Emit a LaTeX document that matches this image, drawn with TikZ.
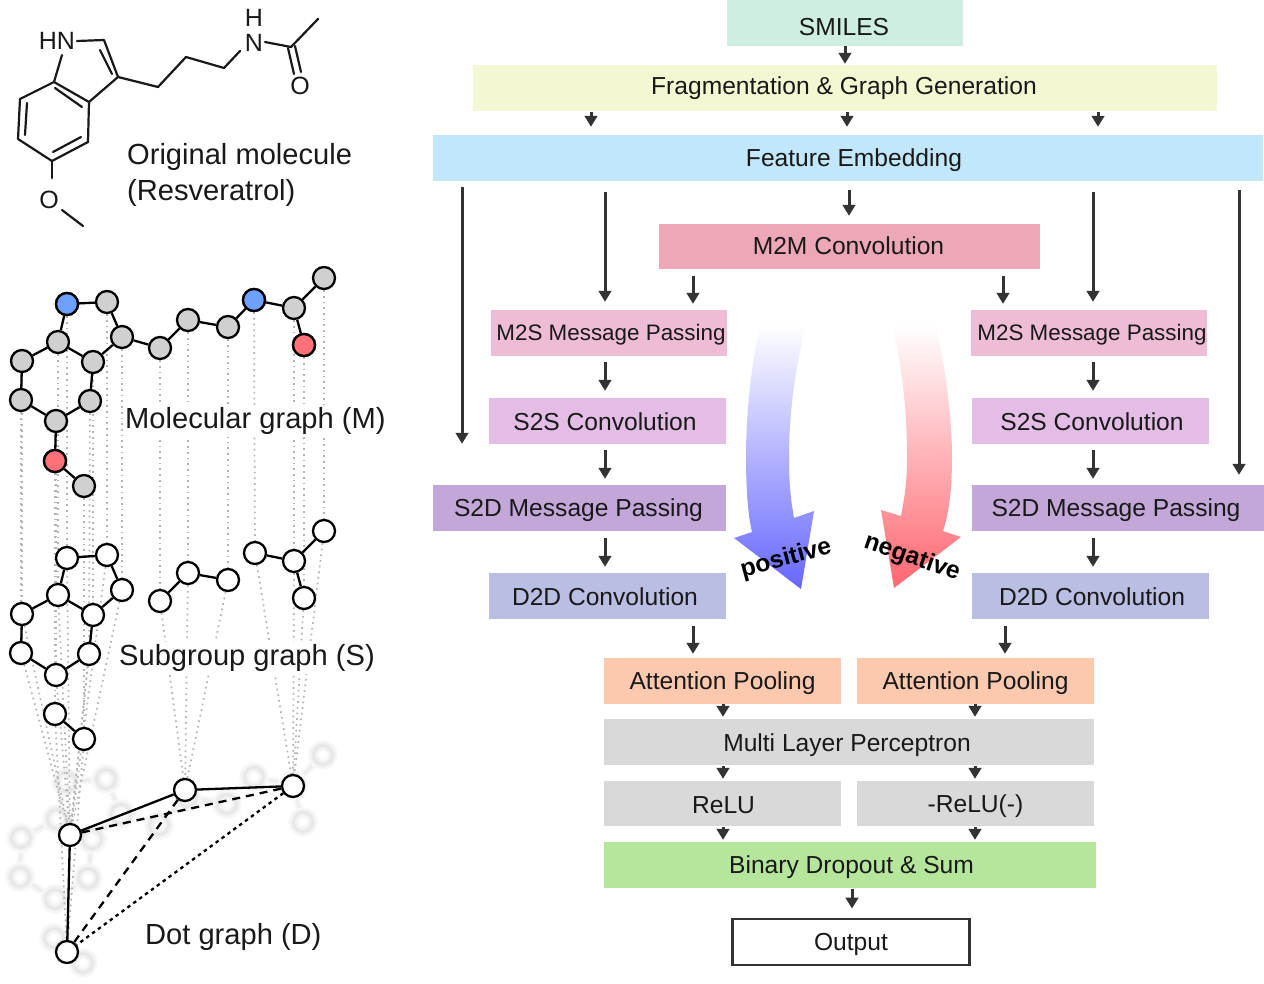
\documentclass[tikz,border=0pt]{standalone}
\usepackage{fontspec}
\setmainfont{Liberation Sans}
\usetikzlibrary{arrows.meta,backgrounds,calc}
\definecolor{csmiles}{HTML}{CDEEE0}
\definecolor{cfrag}{HTML}{F5F6D2}
\definecolor{cfeat}{HTML}{C2E7FA}
\definecolor{cmm}{HTML}{EEA7B6}
\definecolor{cms}{HTML}{EFBCD6}
\definecolor{css}{HTML}{E4BDE6}
\definecolor{csd}{HTML}{C4A7D9}
\definecolor{cdd}{HTML}{BABEE2}
\definecolor{catt}{HTML}{FCC8AE}
\definecolor{cgry}{HTML}{D9D9D9}
\definecolor{cbin}{HTML}{B6E59C}
\definecolor{cink}{HTML}{333333}
\definecolor{catomg}{HTML}{D0D0D0}
\definecolor{catomb}{HTML}{6EA0FF}
\definecolor{catomr}{HTML}{FF7078}
\definecolor{cpos}{HTML}{6666FF}
\definecolor{cneg}{HTML}{FF6670}
\definecolor{cdot}{HTML}{B4B4B4}
\tikzset{
  boxnode/.style={inner sep=0pt,text height=20pt,text depth=2.4pt,font=\fontsize{24.6}{28}\selectfont,text=black!90},
  flow/.style={draw=cink,line width=3pt,-{Triangle[length=11pt,width=12.5pt]}},
  atom/.style={circle,draw=black,line width=2.3pt,minimum size=22pt,inner sep=0pt,fill=white},
  bondl/.style={draw=black,line width=2.3pt},
  mol/.style={draw=black!90,line width=2.2pt,line cap=round,line join=round},
  atomtxt/.style={inner sep=0pt,font=\fontsize{25}{28}\selectfont,text=black!90},
  lab/.style={inner sep=2pt,fill=white,anchor=west,font=\fontsize{29.1}{34}\selectfont,text=black!90},
  dotl/.style={draw=cdot,line width=1.7pt,dash pattern=on 1.7pt off 4pt},
  polarity/.style={inner sep=0pt,font=\bfseries\fontsize{24.6}{28}\selectfont,text=black}
}
\newcommand\bx[7]{\node[boxnode,fill=#6,minimum width={(#4-#2)*1pt},minimum height={(#5-#3)*1pt}] (#1) at ({(#2+#4)/2},{(#3+#5)/2}) {#7};}
\newcommand\arr[5]{\draw[flow,shorten <=#4pt,shorten >=#5pt] (#2.south -| #1,0) -- (#3.north -| #1,0);}
\newcommand\tx[3]{\hspace*{#1pt}\raisebox{#2pt}{#3}}
\def\mlist{1/67/304,2/107/302,3/122/337,4/93/362,5/58/342,6/22/361,7/21/400,8/56/421,9/90/401,10/55/461,11/84/486,12/160/348,13/188/320,14/228/327,15/254/300,16/294/308,17/324/278,18/304/345}
\def\slist{1/67/558,2/107/555,3/122/590,4/93/615,5/58/595,6/22/614,7/21/653,8/56/675,9/89/654,10/55/714,11/84/739,12/160/601,13/188/573,14/228/580,15/255/553,16/294/561,17/324/531,18/304/598}
\def\sbonds{1/2,2/3,3/4,4/5,5/1,5/6,6/7,7/8,8/9,9/4,10/11,12/13,13/14,15/16,16/17,16/18}
\def\mbonds{1/2,2/3,3/4,4/5,5/1,5/6,6/7,7/8,8/9,9/4,8/10,10/11,3/12,12/13,13/14,14/15,15/16,16/17,16/18}
\begin{document}
\begin{tikzpicture}[x=1pt,y=-1pt]
\useasboundingbox (0,0) rectangle (1264,983);
% flow boxes
\bx{smiles}{727}{0}{963}{46}{csmiles}{\tx{-2}{-4}{SMILES}}
\bx{frag}{473}{65}{1217}{111}{cfrag}{\tx{-2}{2}{Fragmentation \& Graph Generation}}
\bx{feat}{433}{135}{1263}{181}{cfeat}{\tx{12}{0}{Feature Embedding}}
\bx{mm}{659}{224}{1040}{269}{cmm}{\tx{-2}{1}{M2M Convolution}}
\bx{msl}{491}{310}{727}{356}{cms}{\tx{4}{1}{\fontsize{22.4}{26}\selectfont M2S Message Passing}}
\bx{msr}{971}{310}{1207}{356}{cms}{\tx{6}{1}{\fontsize{22.4}{26}\selectfont M2S Message Passing}}
\bx{ssl}{489}{398}{726}{444}{css}{\tx{-5}{-1}{S2S Convolution}}
\bx{ssr}{972}{398}{1209}{444}{css}{\tx{3}{-1}{S2S Convolution}}
\bx{sdl}{433}{485}{726}{531}{csd}{\tx{-2}{0}{S2D Message Passing}}
\bx{sdr}{972}{485}{1264}{531}{csd}{\tx{-4}{0}{S2D Message Passing}}
\bx{ddl}{489}{573}{726}{619}{cdd}{\tx{-5}{-1}{D2D Convolution}}
\bx{ddr}{972}{573}{1209}{619}{cdd}{\tx{3}{-1}{D2D Convolution}}
\bx{attl}{604}{658}{841}{704}{catt}{Attention Pooling}
\bx{attr}{857}{658}{1094}{704}{catt}{Attention Pooling}
\bx{mlp}{604}{719}{1094}{765}{cgry}{\tx{-4}{-1}{Multi Layer Perceptron}}
\bx{rel}{604}{781}{841}{826}{cgry}{\tx{2}{-1}{ReLU}}
\bx{rer}{857}{781}{1094}{826}{cgry}{-ReLU(-)}
\bx{bin}{604}{842}{1096}{888}{cbin}{\tx{3}{0}{Binary Dropout \& Sum}}
\node[boxnode,draw=cink,line width=2.8pt,fill=white,minimum width=237pt,minimum height=46pt] (out) at (851,942) {Output};
% flow arrows
\arr{845}{smiles}{frag}{0}{1}
\arr{591}{frag}{feat}{1}{8}
\arr{847}{frag}{feat}{1}{8}
\arr{1098}{frag}{feat}{1}{8}
\arr{462}{feat}{sdl}{6}{41}
\arr{605}{feat}{msl}{11}{8}
\arr{849}{feat}{mm}{9}{8}
\arr{1093}{feat}{msr}{11}{8}
\arr{1239}{feat}{sdr}{9}{10}
\arr{693}{mm}{msl}{7}{6}
\arr{1003}{mm}{msr}{7}{6}
\arr{605}{msl}{ssl}{6}{7}
\arr{1093}{msr}{ssr}{6}{7}
\arr{605}{ssl}{sdl}{6}{6}
\arr{1093}{ssr}{sdr}{6}{6}
\arr{605}{sdl}{ddl}{7}{6}
\arr{1093}{sdr}{ddr}{7}{6}
\arr{693}{ddl}{attl}{7}{4}
\arr{1005}{ddr}{attr}{7}{4}
\arr{723}{attl}{mlp}{0}{2}
\arr{975}{attr}{mlp}{0}{2}
\arr{723}{mlp}{rel}{1}{2}
\arr{975}{mlp}{rer}{1}{2}
\arr{723}{rel}{bin}{1}{2}
\arr{975}{rer}{bin}{1}{2}
\arr{852}{bin}{out}{1}{9}
% polarity arrows
\shade[top color=white,bottom color=cpos,draw=none] (760,325) .. controls (750,370) and (746,420) .. (746,457) .. controls (746,490) and (748,515) .. (752,532) -- (734,538) -- (801,589) -- (814,511) -- (794,518) .. controls (790,495) and (789,480) .. (789,457) .. controls (789,410) and (796,365) .. (806,325) -- cycle;
\shade[top color=white,bottom color=cneg,draw=none] (936,325) .. controls (946,370) and (952,420) .. (952,457) .. controls (952,490) and (949,512) .. (943,531) -- (961,537) -- (894,588) -- (881,510) -- (901,516) .. controls (905,495) and (907,480) .. (907,457) .. controls (907,410) and (902,365) .. (892,325) -- cycle;
\node[polarity,rotate=15] (pos) at (786,559) {positive};
\node[polarity,rotate=-19] (neg) at (912,558) {negative};
% molecule
\foreach \n/\x/\y in {c2/104/40,c3/118/77,c3a/89/102,c7a/54/82,c7/20/99,c6/18/139,c5/52/161,c4/88/142,me/83/226,ca/158/87,cb/186/57,cc/224/68,cd/291/47,ce/318/19,nhl/240/51,nhr/265/42,hne/77/41,hns/62/55,oat/52/178,oar/62/210}
  \coordinate (\n) at (\x,\y);
\node[atomtxt] (hn) at (57,41) {HN};
\node[atomtxt] (nh) at (254,43) {N};
\node[atomtxt] (hh) at (254,18) {H};
\node[atomtxt] (oa) at (49,200) {O};
\node[atomtxt] (ob) at (300,86) {O};
\draw[mol] (hne) -- (c2) -- (c3) -- (c3a) -- (c7a) -- (c7) -- (c6) -- (c5) -- (c4) -- (c3a);
\draw[mol] (c7a) -- (hns);
\draw[mol] (c5) -- (oat);
\draw[mol] (oar) -- (me);
\draw[mol] (c3) -- (ca) -- (cb) -- (cc) -- (nhl);
\draw[mol] (nhr) -- (cd) -- (ce);
\draw[mol] (288,48) -- (294,74);
\draw[mol] (295,46) -- (301,72);
\draw[mol] (100,50) -- (112,74);
\draw[mol] (55,88) -- (82,107);
\draw[mol] (27,103) -- (25,135);
\draw[mol] (53,152) -- (81,137);
% graphs
\foreach \n/\x/\y in \mlist {\node[atom,fill=catomg] (m\n) at (\x,\y) {};}
\node[atom,fill=catomb] (mb1) at (m1) {};
\node[atom,fill=catomb] (mb2) at (m15) {};
\node[atom,fill=catomr] (mr1) at (m10) {};
\node[atom,fill=catomr] (mr2) at (m18) {};
\foreach \n/\x/\y in \slist {\node[atom] (s\n) at (\x,\y) {};}
\node[atom] (d1) at (70,835) {};
\node[atom] (d2) at (185,790) {};
\node[atom] (d3) at (293,786) {};
\node[atom] (d4) at (67,952) {};
\node[lab] (lo) at (125,157) {Original molecule};
\node[lab] (lr) at (125,193) {(Resveratrol)};
\node[lab] (lm) at (123,421) {Molecular graph (M)};
\node[lab] (ls) at (117,658) {Subgroup graph (S)};
\node[lab] (ld) at (143,937) {Dot graph (D)};
\begin{pgfonlayer}{background}
  \fill[white] (0,0) rectangle (1264,983);
  % blurred copy of the subgroup graph
  \foreach \n/\x/\y in \slist {\coordinate (g\n) at ({\x-1},{\y+224});}
  \foreach \w/\c in {8/2,6/3,4/5,2/7} {
    \foreach \a/\b in \sbonds {\draw[line width=\w pt,color=black!\c!white] (g\a) -- (g\b);}
  }
  \foreach \n/\x/\y in \slist {\fill[white] (g\n) circle[radius=10pt];}
  \foreach \w/\c in {11/2,9/3,7/4.5,5/6,3/8,1.5/9.5} {
    \foreach \n/\x/\y in \slist {\draw[line width=\w pt,color=black!\c!white] (g\n) circle[radius=9.5pt];}
  }
  % projections
  \foreach \n/\x/\y in \mlist {\draw[dotl] (m\n) -- (s\n);}
  \foreach \n in {1,2,3,4,5,6,7,8,9} {\draw[dotl] (s\n) -- (d1);}
  \foreach \n in {10,11} {\draw[dotl] (s\n) -- (d4);}
  \foreach \n in {12,13,14} {\draw[dotl] (s\n) -- (d2);}
  \foreach \n in {15,16,17,18} {\draw[dotl] (s\n) -- (d3);}
  % bonds
  \foreach \a/\b in \mbonds {\draw[bondl] (m\a) -- (m\b);}
  \foreach \a/\b in \sbonds {\draw[bondl] (s\a) -- (s\b);}
  \draw[bondl] (d1) -- (d2);
  \draw[bondl] (d2) -- (d3);
  \draw[bondl] (d1) -- (d4);
  \draw[bondl,dash pattern=on 8pt off 6pt] (d1) -- (d3);
  \draw[bondl,dash pattern=on 8pt off 6pt] (d2) -- (d4);
  \draw[bondl,dash pattern=on 3.5pt off 3.8pt] (d3) -- (d4);
\end{pgfonlayer}
\end{tikzpicture}
\end{document}
